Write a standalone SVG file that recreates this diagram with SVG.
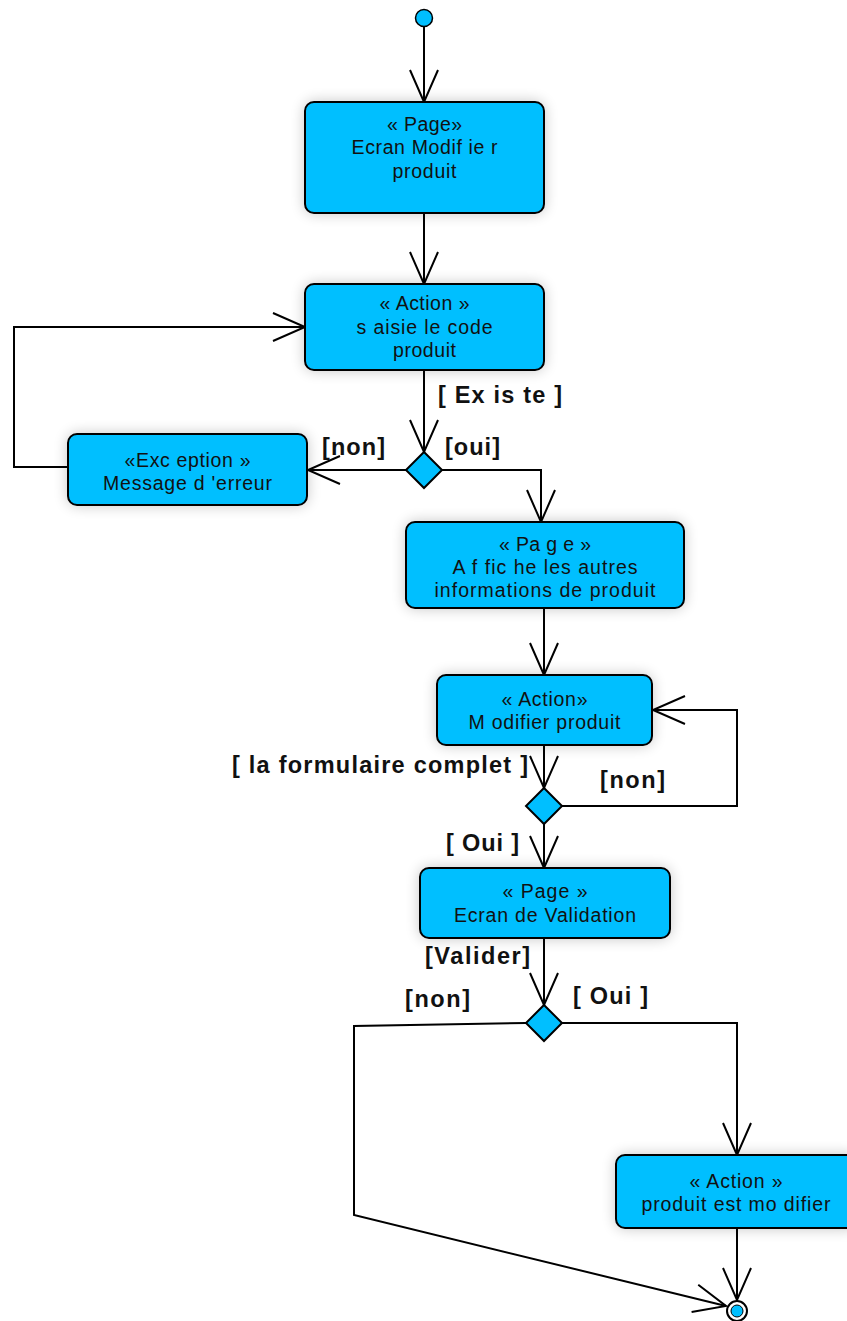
<svg xmlns="http://www.w3.org/2000/svg" width="847" height="1321" viewBox="0 0 847 1321">
  <defs>
    <style>
      .node { fill: #00bfff; stroke: #000; stroke-width: 2; }
      .lbl { font-family: "Liberation Sans", Arial, sans-serif; font-size: 19.5px; fill: #111; text-anchor: middle; }
      .guard { font-family: "Liberation Sans", Arial, sans-serif; font-size: 23.5px; font-weight: bold; fill: #111; }
      .flow { fill: none; stroke: #000; stroke-width: 2; }
    </style>
    <filter id="halo" x="-20%" y="-30%" width="140%" height="160%">
      <feGaussianBlur in="SourceAlpha" stdDeviation="7"/>
      <feComponentTransfer><feFuncA type="linear" slope="0.22"/></feComponentTransfer>
      <feMerge><feMergeNode/><feMergeNode in="SourceGraphic"/></feMerge>
    </filter>
    <marker id="open" markerUnits="userSpaceOnUse" markerWidth="36" markerHeight="30" refX="32" refY="14" orient="auto" overflow="visible">
      <path d="M0,0 L32,14 L0,28" fill="none" stroke="#000" stroke-width="2"/>
    </marker>
  </defs>

  <!-- control flows -->
  <g id="connectors">
    <path class="flow" d="M424,27 V102" marker-end="url(#open)"/>
    <path class="flow" d="M424,213 V284" marker-end="url(#open)"/>
    <path class="flow" d="M424,370 V452" marker-end="url(#open)"/>
    <path class="flow" d="M406,470 H308" marker-end="url(#open)"/>
    <path class="flow" d="M68,467 H14 V327 H305" marker-end="url(#open)"/>
    <path class="flow" d="M442,470 H541 V522" marker-end="url(#open)"/>
    <path class="flow" d="M544,608 V675" marker-end="url(#open)"/>
    <path class="flow" d="M544,745 V788" marker-end="url(#open)"/>
    <path class="flow" d="M562,806 H737 V710 H653" marker-end="url(#open)"/>
    <path class="flow" d="M544,824 V868" marker-end="url(#open)"/>
    <path class="flow" d="M544,938 V1005" marker-end="url(#open)"/>
    <path class="flow" d="M562,1023 H737 V1155" marker-end="url(#open)"/>
    <path class="flow" d="M526,1023 L354,1026 V1215 L726,1306" marker-end="url(#open)"/>
    <path class="flow" d="M737,1228 V1300" marker-end="url(#open)"/>
  </g>

  <!-- guards -->
  <g id="guards">
    <text class="guard" x="438" y="403" textLength="124" lengthAdjust="spacing">[ Ex is te ]</text>
    <text class="guard" x="322" y="455" textLength="63" lengthAdjust="spacing">[non]</text>
    <text class="guard" x="445" y="455" textLength="55" lengthAdjust="spacing">[oui]</text>
    <text class="guard" x="232" y="773" textLength="296" lengthAdjust="spacing">[ la formulaire complet ]</text>
    <text class="guard" x="600" y="788" textLength="65" lengthAdjust="spacing">[non]</text>
    <text class="guard" x="446" y="851" textLength="73" lengthAdjust="spacing">[ Oui ]</text>
    <text class="guard" x="425" y="964" textLength="105" lengthAdjust="spacing">[Valider]</text>
    <text class="guard" x="405" y="1007" textLength="65" lengthAdjust="spacing">[non]</text>
    <text class="guard" x="573" y="1004" textLength="75" lengthAdjust="spacing">[ Oui ]</text>
  </g>

  <!-- initial node -->
  <g id="start">
    <circle cx="424" cy="18" r="8.5" fill="#00bfff" stroke="#000" stroke-width="1.5"/>
  </g>

  <g id="ecran-modifier">
    <rect class="node" x="305" y="102" width="239" height="111" rx="9" filter="url(#halo)"/>
    <text class="lbl" x="424.5" y="131" textLength="75" lengthAdjust="spacing">« Page»</text>
    <text class="lbl" x="424.5" y="154" textLength="146" lengthAdjust="spacing">Ecran Modif ie r</text>
    <text class="lbl" x="424.5" y="178" textLength="64" lengthAdjust="spacing">produit</text>
  </g>

  <g id="saisie-code">
    <rect class="node" x="305" y="284" width="239" height="86" rx="9" filter="url(#halo)"/>
    <text class="lbl" x="424.5" y="310" textLength="90" lengthAdjust="spacing">« Action »</text>
    <text class="lbl" x="424.5" y="334" textLength="136" lengthAdjust="spacing">s aisie le code</text>
    <text class="lbl" x="424.5" y="357" textLength="63" lengthAdjust="spacing">produit</text>
  </g>

  <g id="decision-existe">
    <path class="node" d="M424,452 L442,470 L424,488 L406,470 Z"/>
  </g>

  <g id="message-erreur">
    <rect class="node" x="68" y="434" width="239" height="71" rx="9" filter="url(#halo)"/>
    <text class="lbl" x="187.5" y="467" textLength="126" lengthAdjust="spacing">«Exc eption »</text>
    <text class="lbl" x="187.5" y="490" textLength="169" lengthAdjust="spacing">Message d 'erreur</text>
  </g>

  <g id="affiche-infos">
    <rect class="node" x="406" y="522" width="278" height="86" rx="9" filter="url(#halo)"/>
    <text class="lbl" x="545" y="551" textLength="92" lengthAdjust="spacing">« Pa g e »</text>
    <text class="lbl" x="545" y="574" textLength="185" lengthAdjust="spacing">A f fic he les autres</text>
    <text class="lbl" x="545" y="597" textLength="221" lengthAdjust="spacing">informations de produit</text>
  </g>

  <g id="modifier-produit">
    <rect class="node" x="437" y="675" width="215" height="70" rx="9" filter="url(#halo)"/>
    <text class="lbl" x="544.5" y="706" textLength="86" lengthAdjust="spacing">« Action»</text>
    <text class="lbl" x="544.5" y="729" textLength="152" lengthAdjust="spacing">M odifier produit</text>
  </g>

  <g id="decision-complet">
    <path class="node" d="M544,788 L562,806 L544,824 L526,806 Z"/>
  </g>

  <g id="ecran-validation">
    <rect class="node" x="420" y="868" width="250" height="70" rx="9" filter="url(#halo)"/>
    <text class="lbl" x="545" y="898" textLength="85" lengthAdjust="spacing">« Page »</text>
    <text class="lbl" x="545" y="922" textLength="182" lengthAdjust="spacing">Ecran de Validation</text>
  </g>

  <g id="decision-valider">
    <path class="node" d="M544,1005 L562,1023 L544,1041 L526,1023 Z"/>
  </g>

  <g id="produit-modifie">
    <rect class="node" x="616" y="1155" width="242" height="73" rx="9" filter="url(#halo)"/>
    <text class="lbl" x="736" y="1188" textLength="93" lengthAdjust="spacing">« Action »</text>
    <text class="lbl" x="736" y="1211" textLength="189" lengthAdjust="spacing">produit est mo difier</text>
  </g>

  <!-- final node -->
  <g id="end">
    <circle cx="737" cy="1311" r="10" fill="#fff" stroke="#000" stroke-width="2"/>
    <circle cx="737" cy="1311" r="6" fill="#00bfff" stroke="#000" stroke-width="1"/>
  </g>
</svg>
